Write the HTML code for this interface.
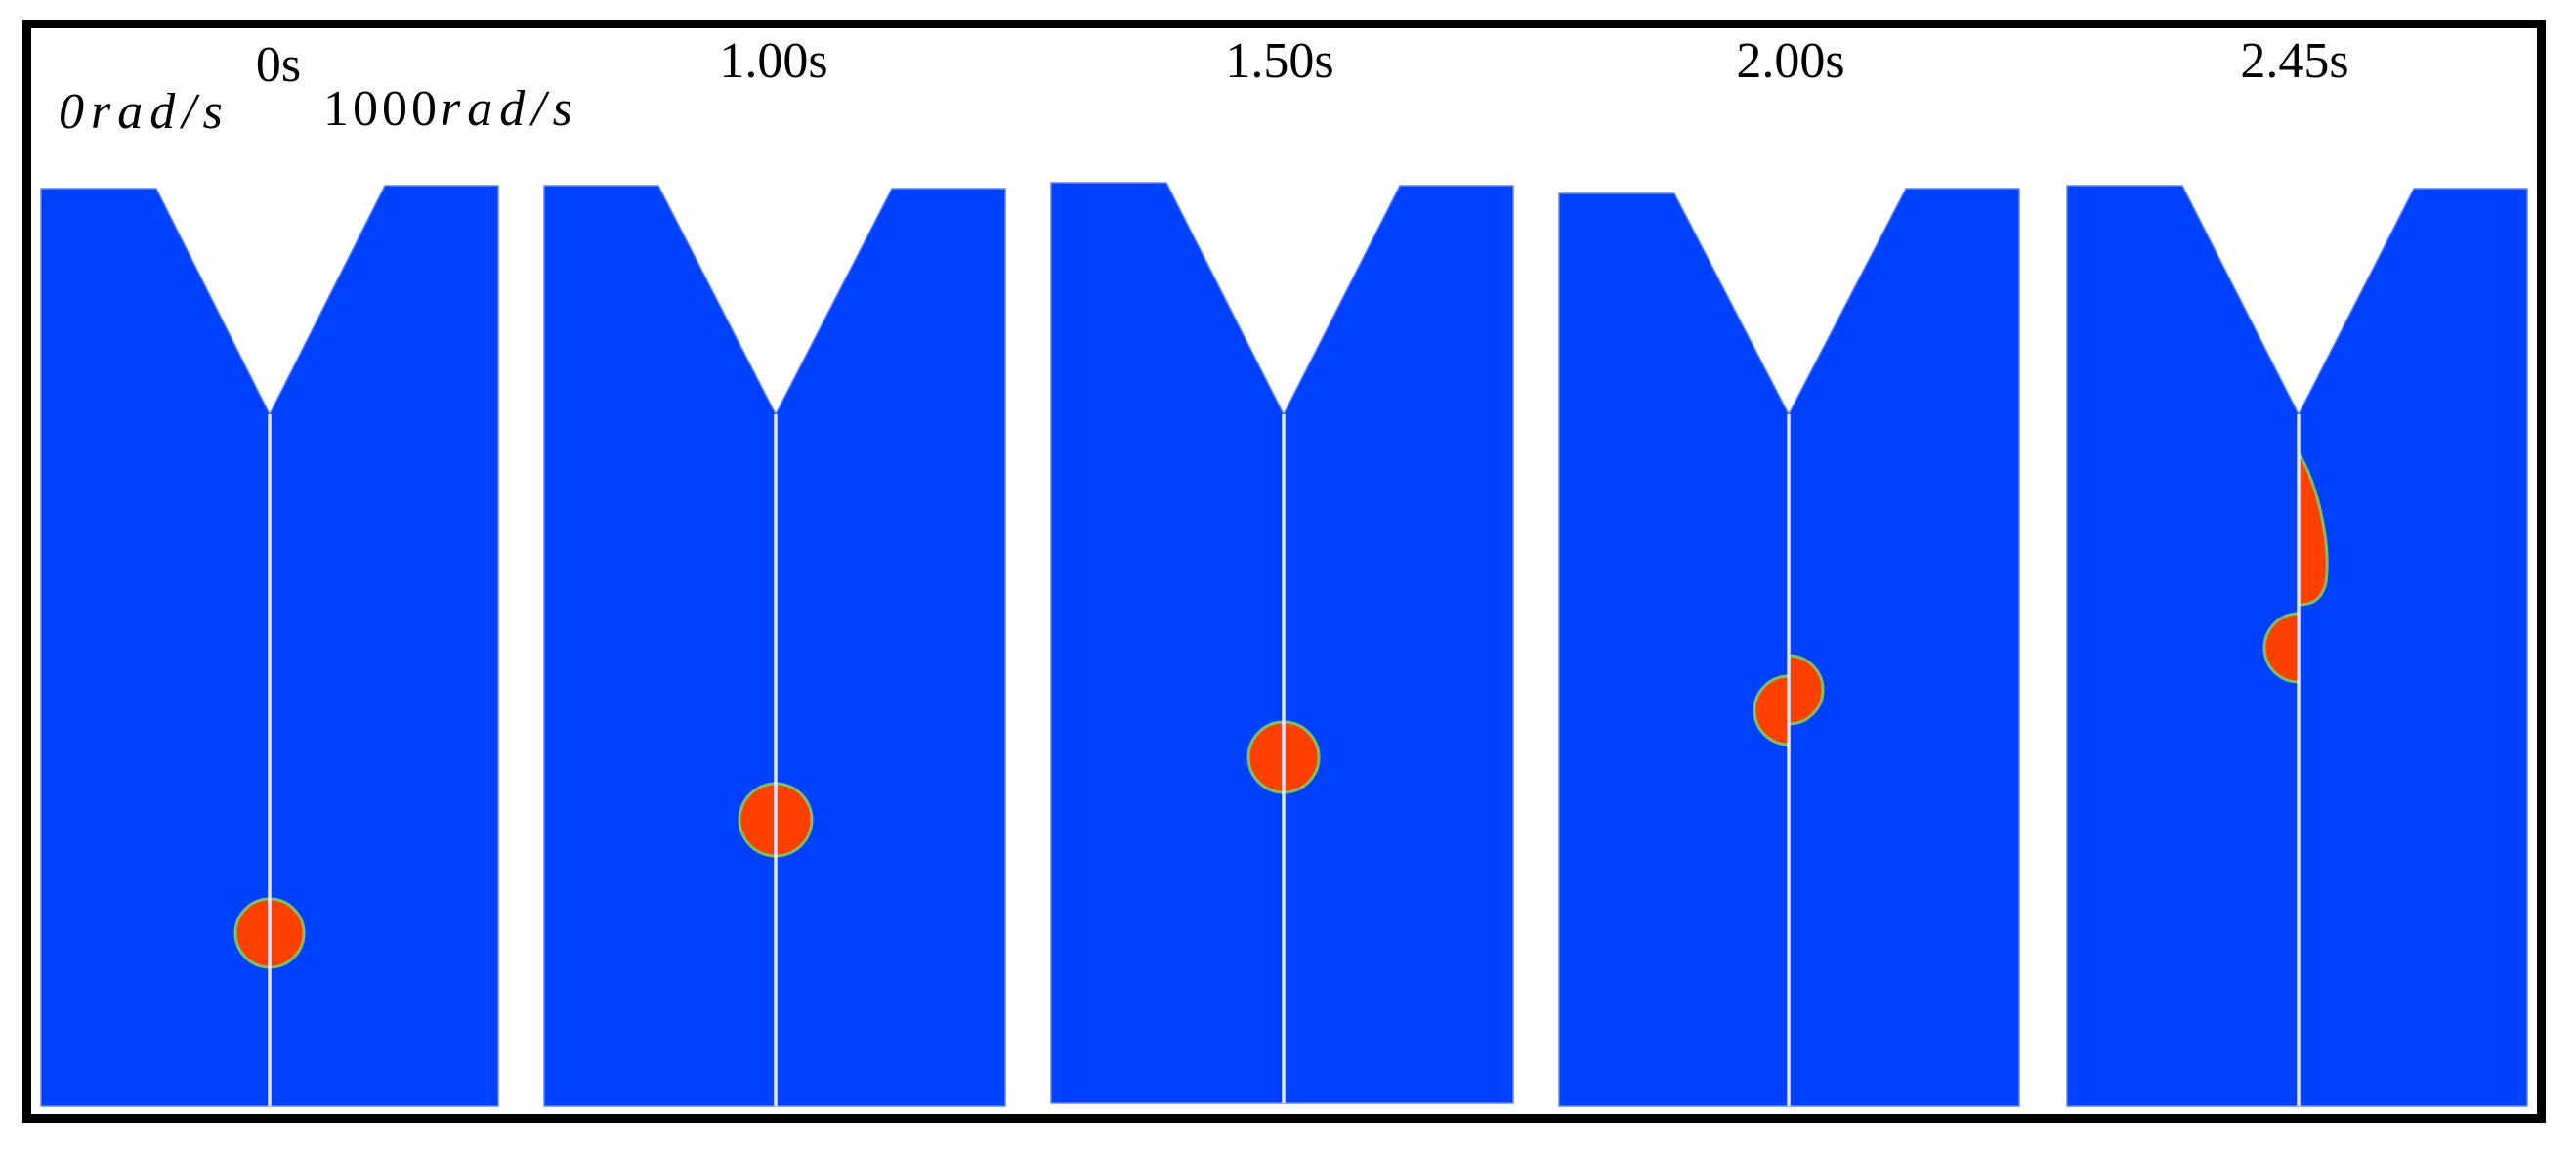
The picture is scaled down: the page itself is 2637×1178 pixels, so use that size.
<!DOCTYPE html>
<html><head><meta charset="utf-8"><style>
html,body{margin:0;padding:0;background:#fff;}
svg{display:block;}
</style></head><body>
<svg id="fig" width="2637" height="1178" viewBox="0 0 2637 1178" xmlns="http://www.w3.org/2000/svg">
<defs>
<clipPath id="cl"><rect x="-5000" y="0" width="5000" height="2000"/></clipPath>
<clipPath id="cr"><rect x="0" y="0" width="5000" height="2000"/></clipPath>
</defs>
<rect x="27.5" y="24.5" width="2574" height="1120" fill="none" stroke="#000" stroke-width="9"/>
<g id="panels"></g>
<text x="60" y="131" font-family="Liberation Serif, serif" font-style="italic" font-size="52" letter-spacing="7" fill="#000">0rad/s</text>
<text x="331" y="128" font-family="Liberation Serif, serif" font-size="52" letter-spacing="4" fill="#000">1000<tspan font-style="italic" letter-spacing="7">rad/s</tspan></text>
</svg>
<script>
const times = ["0s","1.00s","1.50s","2.00s","2.45s"];
const panelLeft = [42,557,1076,1596,2116];
const panelRight = [510,1029,1549,2067,2587];
const topLeft = [193,190,187,198,190];
const topRight = [190,193,190,193,193];
const bottomY = [1132,1132,1129,1132,1132];
const shoulderL = [160,674,1194,1714,2234];
const shoulderR = [394,913,1433,1951,2471];
const apexX = [276,794,1314,1831,2353];
const apexY = 424;
// droplet: left half center y, right half center y, radius
const dropLeftY = [955,839,775,727,663];
const dropRightY = [955,839,775,706,null];
const dropR = [35,37,36,35,35];
const labelX = [285,792,1310,1833,2349];
const labelY = [83,79,79,79,79];
// teardrop on last panel: top y, bottom y, max width
const tearTop = 464, tearBottom = 619, tearWidth = 33;

const NS = "http://www.w3.org/2000/svg";
const g = document.getElementById('panels');
function mk(tag, attrs, parent){const e=document.createElementNS(NS,tag);for(const k in attrs)e.setAttribute(k,attrs[k]);(parent||g).appendChild(e);return e;}

for(let i=0;i<times.length;i++){
  const pg = mk('g',{});
  
  
  const pts = [
    [panelLeft[i],topLeft[i]],[shoulderL[i],topLeft[i]],[apexX[i],apexY],
    [shoulderR[i],topRight[i]],[panelRight[i],topRight[i]],
    [panelRight[i],bottomY[i]],[panelLeft[i],bottomY[i]]
  ].map(p=>p.join(',')).join(' ');
  const body = mk('polygon',{points:pts,fill:'#0040ff',stroke:'#5f86ff','stroke-width':1.5},pg);
  
  

  const dg = mk('g',{transform:'translate('+apexX[i]+',0)'},pg);
  
  
  const r = dropR[i];
  const c1 = mk('circle',{cx:0,cy:dropLeftY[i],r:r,fill:'#ff4000',stroke:'#7fc060','stroke-width':3,'clip-path':'url(#cl)'},dg);
  
  
  if(dropRightY[i]!==null){
    const c2 = mk('circle',{cx:0,cy:dropRightY[i],r:r,fill:'#ff4000',stroke:'#7fc060','stroke-width':3,'clip-path':'url(#cr)'},dg);
    
    
  } else {
    const h = tearBottom - tearTop;
    const d = 'M0,'+tearTop+' C'+(tearWidth*0.6)+','+(tearTop+h*0.2)+' '+(tearWidth)+','+(tearTop+h*0.6)+' '+(tearWidth*0.85)+','+(tearTop+h*0.85)+' C'+(tearWidth*0.7)+','+(tearBottom)+' '+(tearWidth*0.2)+','+tearBottom+' 0,'+tearBottom+' Z';
    const t = mk('path',{d:d,fill:'#ff4000',stroke:'#7fc060','stroke-width':3},dg);
    
    
  }
  const crack = mk('line',{x1:apexX[i],y1:apexY,x2:apexX[i],y2:bottomY[i],stroke:'#dfe6ff','stroke-width':3.5},pg);
  
  

  const lbl = mk('text',{x:labelX[i],y:labelY[i],'text-anchor':'middle','font-family':'Liberation Serif, serif','font-size':52,fill:'#000'},pg);
  lbl.textContent = times[i];
  
  
}
</script>
</body></html>
